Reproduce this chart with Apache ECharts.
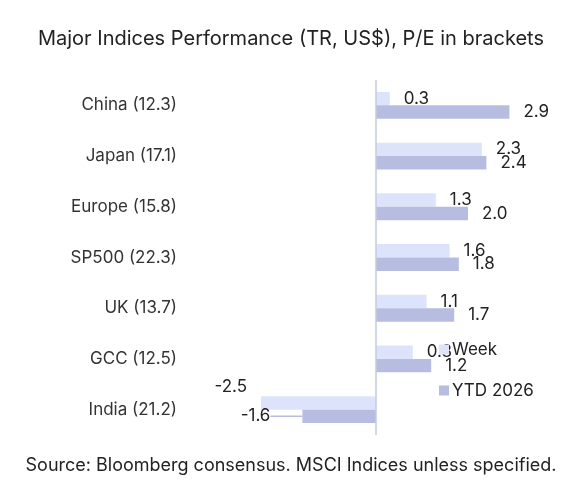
<!DOCTYPE html>
<html>
<head>
<meta charset="utf-8">
<script src="https://cdn.jsdelivr.net/npm/echarts@6/dist/echarts.min.js"></script>
<style>
  html, body { margin: 0; padding: 0; background: #fff; }
  #chart { width: 582px; height: 503px; }
</style>
</head>
<body>
<div id="chart"></div>
<script>
var categories = ['China (12.3)', 'Japan (17.1)', 'Europe (15.8)', 'SP500 (22.3)', 'UK (13.7)', 'GCC (12.5)', 'India (21.2)'];
var weekValues = [0.3, 2.3, 1.3, 1.6, 1.1, 0.8, -2.5];
var ytdValues = [2.9, 2.4, 2.0, 1.8, 1.7, 1.2, -1.6];

var FONT = 'Inter, "Noto Sans", sans-serif';

// negative bars get their label on the left; leader line only where asked
function toItems(values, withLine) {
    return values.map(function (v) {
        return {
            value: v,
            label: { position: v < 0 ? 'left' : 'right' },
            labelLine: { show: withLine && v < 0 }
        };
    });
}

var option = {
    textStyle: { fontFamily: FONT },
    title: {
        text: 'Major Indices Performance (TR, US$), P/E in brackets',
        left: 'center', top: 24,
        textStyle: { fontSize: 20, fontWeight: 'normal', color: '#222', fontFamily: FONT }
    },
    graphic: [{
        type: 'text', left: 'center', top: 457,
        style: { text: 'Source: Bloomberg consensus. MSCI Indices unless specified.', fontSize: 18, fill: '#222', fontFamily: FONT }
    }],
    legend: {
        orient: 'vertical', left: 434, top: 336, itemGap: 24,
        itemWidth: 10, itemHeight: 10, icon: 'rect',
        textStyle: { fontSize: 17, color: '#222', fontFamily: FONT, padding: [0, 0, 0, -2] },
        data: ['Week', 'YTD 2026']
    },
    grid: { left: 192, right: 22, top: 80, bottom: 68 },
    xAxis: {
        type: 'value', min: -4, max: 4, show: false
    },
    yAxis: {
        type: 'category', data: categories, inverse: true,
        axisLine: { show: false, onZero: false }, axisTick: { show: false },
        axisLabel: { fontSize: 17, color: '#333', margin: 15, fontFamily: FONT }
    },
    series: [
        {
            name: 'Week', type: 'bar', data: toItems(weekValues, false),
            barGap: '0%', barCategoryGap: '47%',
            itemStyle: { color: '#dde3fb' },
            label: {
                show: true, distance: 14, fontSize: 17, color: '#222', fontFamily: FONT,
                formatter: function (p) { return p.value.toFixed(1); }
            },
            labelLayout: function (p) {
                if (p.dataIndex === 6) return { dy: -16 };
                return { moveOverlap: 'shiftY' };
            },
            markLine: {
                silent: true, symbol: 'none', label: { show: false },
                lineStyle: { color: '#c5cbe0', width: 1.5, type: 'solid' },
                data: [{ xAxis: 0 }]
            }
        },
        {
            name: 'YTD 2026', type: 'bar', data: toItems(ytdValues, true),
            itemStyle: { color: '#b6bde0' },
            label: {
                show: true, distance: 14, fontSize: 17, color: '#222', fontFamily: FONT,
                formatter: function (p) { return p.value.toFixed(1); }
            },
            labelLine: { lineStyle: { color: '#b6bde0', width: 1.5 } },
            labelLayout: function (p) {
                if (p.dataIndex === 6) return { dx: -18 };
                return { moveOverlap: 'shiftY' };
            }
        }
    ]
};

var myChart = echarts.init(document.getElementById('chart'));
myChart.setOption(option);
</script>
</body>
</html>
